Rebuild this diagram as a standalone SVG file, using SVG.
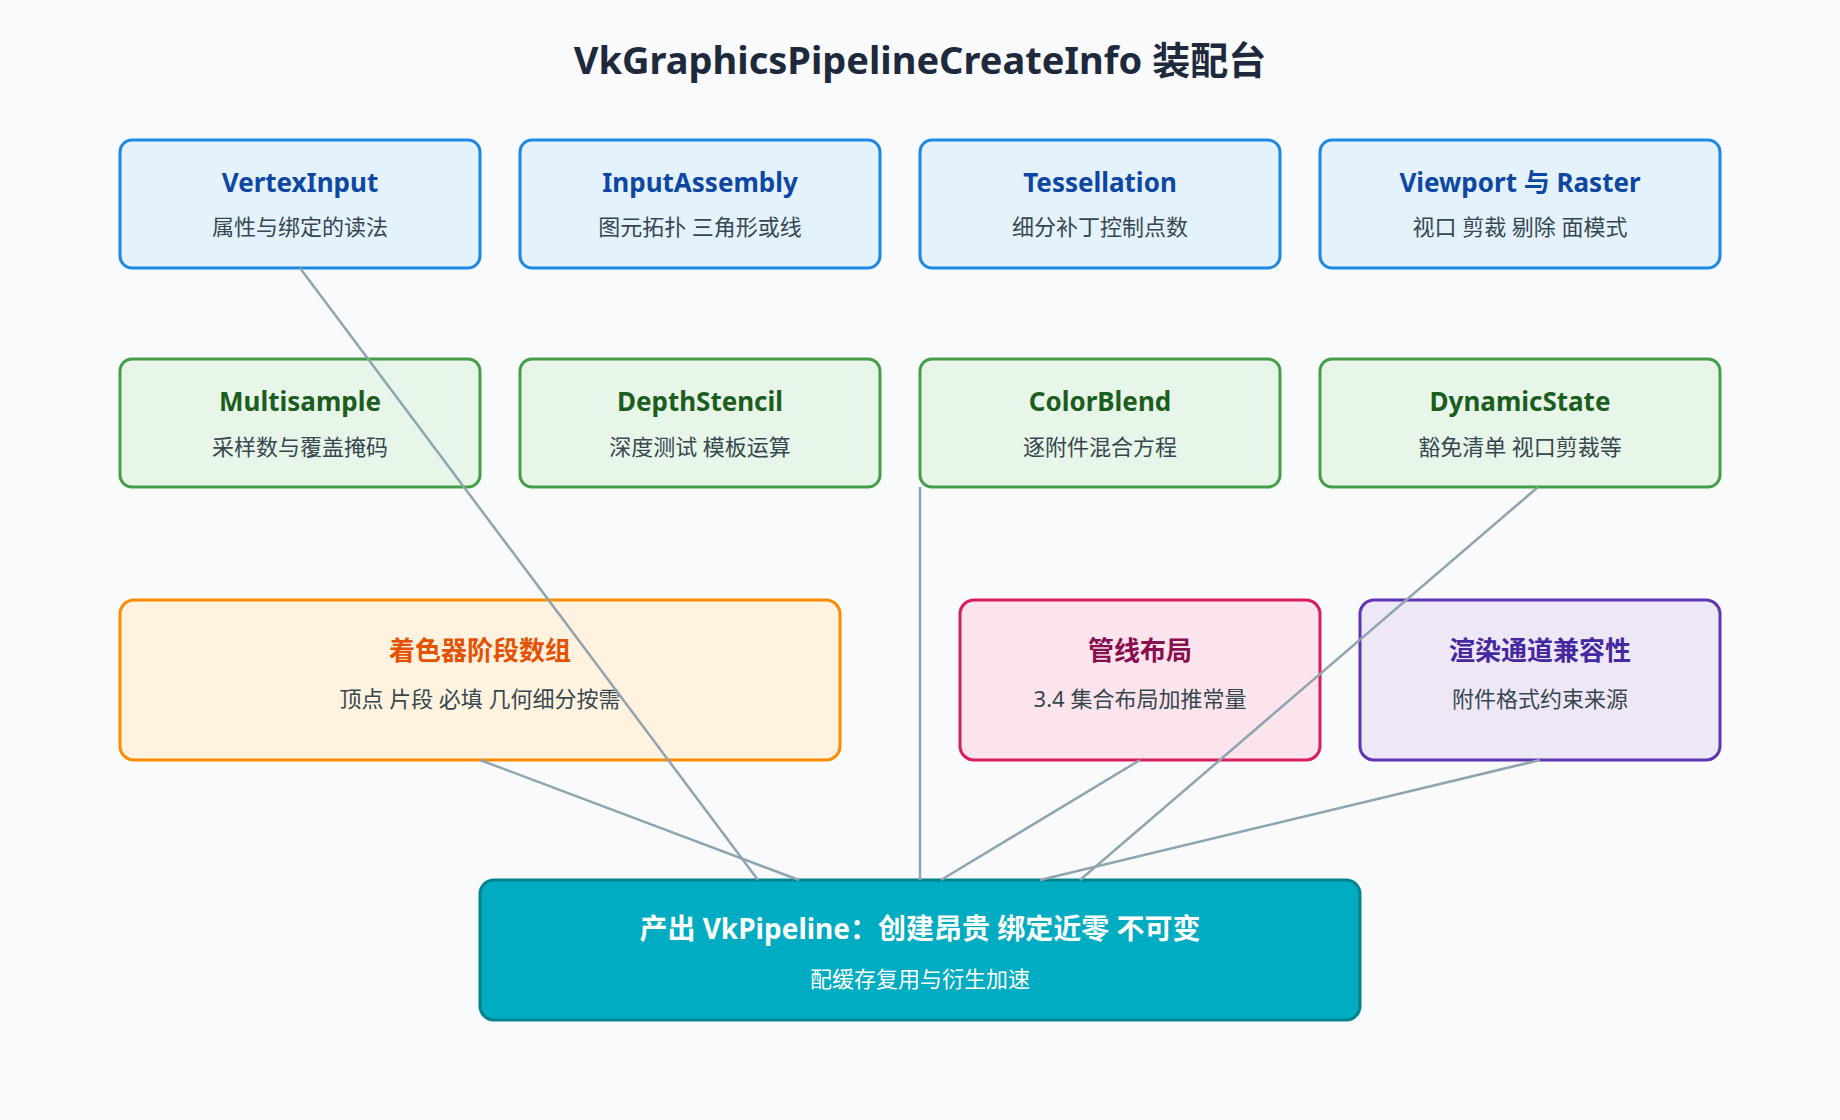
<svg xmlns="http://www.w3.org/2000/svg" width="1840" height="1120" viewBox="0 0 1840 1120">
<style>
text{font-family:"Noto Sans","Noto Sans CJK SC",sans-serif;text-anchor:middle}
.t{font-size:26px;font-weight:700}
.s{font-size:22px;fill:#37474f}
.blue rect{fill:#e3f2fd;stroke:#1e88e5;stroke-width:3}
.blue .t{fill:#0d47a1}
.green rect{fill:#e8f5e9;stroke:#43a047;stroke-width:3}
.green .t{fill:#1b5e20}
.conn line{stroke:#90a4ae;stroke-width:2.5}
</style>
<rect width="1840" height="1120" fill="#f8fafc"/>
<text x="920" y="74" style="font-size:38px;font-weight:700;fill:#1e293b">VkGraphicsPipelineCreateInfo 装配台</text>
<g id="vertexinput" class="blue"><rect x="120" y="140" width="360" height="128" rx="12"/><text class="t" x="300" y="192">VertexInput</text><text class="s" x="300" y="235">属性与绑定的读法</text></g>
<g id="inputassembly" class="blue"><rect x="520" y="140" width="360" height="128" rx="12"/><text class="t" x="700" y="192">InputAssembly</text><text class="s" x="700" y="235">图元拓扑 三角形或线</text></g>
<g id="tessellation" class="blue"><rect x="920" y="140" width="360" height="128" rx="12"/><text class="t" x="1100" y="192">Tessellation</text><text class="s" x="1100" y="235">细分补丁控制点数</text></g>
<g id="viewport" class="blue"><rect x="1320" y="140" width="400" height="128" rx="12"/><text class="t" x="1520" y="192">Viewport 与 Raster</text><text class="s" x="1520" y="235">视口 剪裁 剔除 面模式</text></g>
<g id="multisample" class="green"><rect x="120" y="359" width="360" height="128" rx="12"/><text class="t" x="300" y="411">Multisample</text><text class="s" x="300" y="455">采样数与覆盖掩码</text></g>
<g id="depthstencil" class="green"><rect x="520" y="359" width="360" height="128" rx="12"/><text class="t" x="700" y="411">DepthStencil</text><text class="s" x="700" y="455">深度测试 模板运算</text></g>
<g id="colorblend" class="green"><rect x="920" y="359" width="360" height="128" rx="12"/><text class="t" x="1100" y="411">ColorBlend</text><text class="s" x="1100" y="455">逐附件混合方程</text></g>
<g id="dynamicstate" class="green"><rect x="1320" y="359" width="400" height="128" rx="12"/><text class="t" x="1520" y="411">DynamicState</text><text class="s" x="1520" y="455">豁免清单 视口剪裁等</text></g>
<g id="shaders"><rect x="120" y="600" width="720" height="160" rx="14" fill="#fff3e0" stroke="#fb8c00" stroke-width="3"/><text class="t" x="480" y="660" fill="#e65100">着色器阶段数组</text><text class="s" x="480" y="707">顶点 片段 必填 几何细分按需</text></g>
<g id="layout"><rect x="960" y="600" width="360" height="160" rx="14" fill="#fce4ec" stroke="#d81b60" stroke-width="3"/><text class="t" x="1140" y="660" fill="#880e4f">管线布局</text><text class="s" x="1140" y="707">3.4 集合布局加推常量</text></g>
<g id="renderpass"><rect x="1360" y="600" width="360" height="160" rx="14" fill="#ede7f6" stroke="#5e35b1" stroke-width="3"/><text class="t" x="1540" y="660" fill="#4527a0">渲染通道兼容性</text><text class="s" x="1540" y="707">附件格式约束来源</text></g>
<g id="pipeline"><rect x="480" y="880" width="880" height="140" rx="14" fill="#00acc1" stroke="#00838f" stroke-width="3"/><text class="t" x="920" y="939" fill="#ffffff" style="font-size:28px">产出 VkPipeline：创建昂贵 绑定近零 不可变</text><text class="s" x="920" y="987" fill="#ffffff" style="fill:#ffffff">配缓存复用与衍生加速</text></g>
<g id="connectors" class="conn">
<line x1="300" y1="268" x2="758" y2="880"/>
<line x1="920" y1="487" x2="920" y2="880"/>
<line x1="1538" y1="487" x2="1080" y2="880"/>
<line x1="480" y1="760" x2="799" y2="880"/>
<line x1="1140" y1="760" x2="941" y2="880"/>
<line x1="1540" y1="760" x2="1040" y2="880"/>
</g>
</svg>
